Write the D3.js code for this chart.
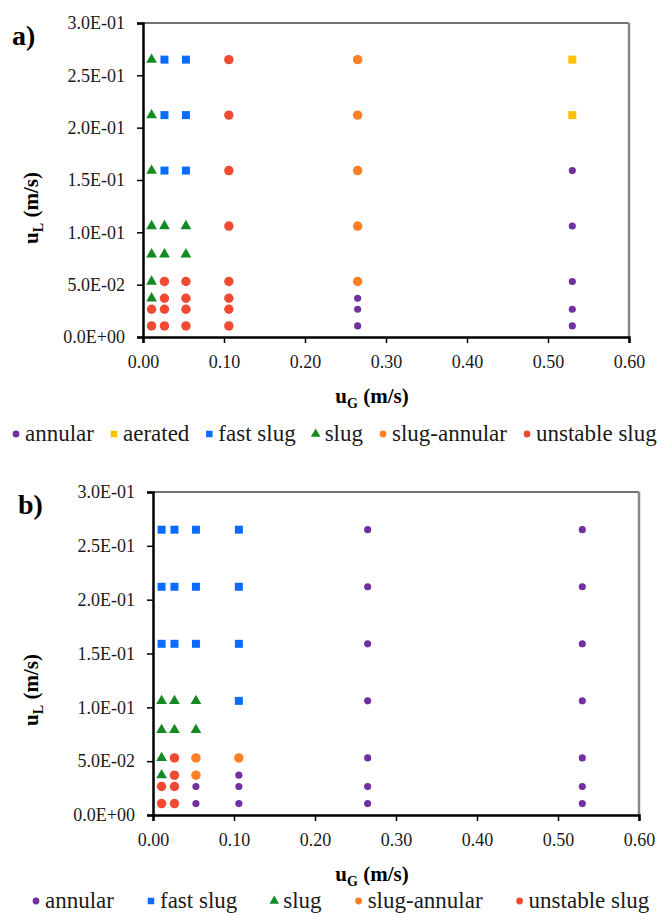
<!DOCTYPE html>
<html lang="en">
  <head>
    <meta charset="UTF-8" />
    <title>Flow regime maps</title>
    <style>
      body {
        margin: 0;
        background: #fff;
      }
    </style>
  </head>
  <body>
    <svg width="667" height="915" id="chart"></svg>

    <script src="https://d3js.org/d3.v7.min.js"></script>
    <script>
      // axis ticks
      var xTicks = [0, 0.1, 0.2, 0.3, 0.4, 0.5, 0.6];
      var yTicks = [0, 0.05, 0.1, 0.15, 0.2, 0.25, 0.3];

      // regimes, in legend order
      var regimesA = ["annular", "aerated", "fast slug", "slug", "slug-annular", "unstable slug"];
      var regimesB = ["annular", "fast slug", "slug", "slug-annular", "unstable slug"];

      // panel a) points [uG, uL]
      var annularA = [[0.265, 0.037], [0.265, 0.0265], [0.265, 0.0106],
        [0.53, 0.159], [0.53, 0.106], [0.53, 0.053], [0.53, 0.0265], [0.53, 0.0106]];
      var aeratedA = [[0.53, 0.265], [0.53, 0.212]];
      var fastSlugA = [[0.0265, 0.265], [0.0265, 0.212], [0.0265, 0.159],
        [0.053, 0.265], [0.053, 0.212], [0.053, 0.159]];
      var slugA = [[0.0106, 0.265], [0.0106, 0.212], [0.0106, 0.159], [0.0106, 0.106],
        [0.0106, 0.079], [0.0106, 0.053], [0.0106, 0.037],
        [0.0265, 0.106], [0.0265, 0.079], [0.053, 0.106], [0.053, 0.079]];
      var slugAnnularA = [[0.265, 0.265], [0.265, 0.212], [0.265, 0.159], [0.265, 0.106], [0.265, 0.053]];
      var unstableA = [[0.0106, 0.0265], [0.0106, 0.0106],
        [0.0265, 0.053], [0.0265, 0.037], [0.0265, 0.0265], [0.0265, 0.0106],
        [0.053, 0.053], [0.053, 0.037], [0.053, 0.0265], [0.053, 0.0106],
        [0.106, 0.265], [0.106, 0.212], [0.106, 0.159], [0.106, 0.106],
        [0.106, 0.053], [0.106, 0.037], [0.106, 0.0265], [0.106, 0.0106]];

      // panel b) points [uG, uL]
      var annularB = [[0.053, 0.0265], [0.053, 0.0106],
        [0.106, 0.037], [0.106, 0.0265], [0.106, 0.0106],
        [0.265, 0.265], [0.265, 0.212], [0.265, 0.159], [0.265, 0.106], [0.265, 0.053], [0.265, 0.0265], [0.265, 0.0106],
        [0.53, 0.265], [0.53, 0.212], [0.53, 0.159], [0.53, 0.106], [0.53, 0.053], [0.53, 0.0265], [0.53, 0.0106]];
      var fastSlugB = [[0.0106, 0.265], [0.0106, 0.212], [0.0106, 0.159],
        [0.0265, 0.265], [0.0265, 0.212], [0.0265, 0.159],
        [0.053, 0.265], [0.053, 0.212], [0.053, 0.159],
        [0.106, 0.265], [0.106, 0.212], [0.106, 0.159], [0.106, 0.106]];
      var slugB = [[0.0106, 0.106], [0.0106, 0.079], [0.0106, 0.053], [0.0106, 0.037],
        [0.0265, 0.106], [0.0265, 0.079], [0.053, 0.106], [0.053, 0.079]];
      var slugAnnularB = [[0.053, 0.053], [0.053, 0.037], [0.106, 0.053]];
      var unstableB = [[0.0106, 0.0265], [0.0106, 0.0106],
        [0.0265, 0.053], [0.0265, 0.037], [0.0265, 0.0265], [0.0265, 0.0106]];

      var style = {
        "annular": { color: "#7030a0", shape: d3.symbolCircle, size: 40 },
        "aerated": { color: "#ffc000", shape: d3.symbolSquare, size: 64 },
        "fast slug": { color: "#0a6cff", shape: d3.symbolSquare, size: 64 },
        "slug": { color: "#148a22", shape: d3.symbolTriangle, size: 50 },
        "slug-annular": { color: "#ff7f27", shape: d3.symbolCircle, size: 70 },
        "unstable slug": { color: "#f04a32", shape: d3.symbolCircle, size: 70 }
      };

      var serif = "'Liberation Serif', 'Times New Roman', Tinos, 'DejaVu Serif', serif";
      var svg = d3.select("#chart");

      // "3.0E-01" style labels
      function sci(v) {
        if (v === 0) return "0.0E+00";
        var e = Math.floor(Math.log10(v) + 1e-9);
        var m = v / Math.pow(10, e);
        var es = (e < 0 ? "-" : "+") + String(Math.abs(e)).padStart(2, "0");
        return m.toFixed(1) + "E" + es;
      }

      function drawPanel(p) {
        var x = d3.scaleLinear().domain([0, 0.6]).range([p.left, p.right]);
        var y = d3.scaleLinear().domain([0, 0.3]).range([p.bottom, p.top]);

        // frame: top and right
        svg.append("line")
          .attr("x1", p.left).attr("x2", p.right)
          .attr("y1", p.top).attr("y2", p.top)
          .attr("stroke", "#444").attr("stroke-width", 1.5);
        svg.append("line")
          .attr("x1", p.right).attr("x2", p.right)
          .attr("y1", p.top).attr("y2", p.bottom)
          .attr("stroke", "#888").attr("stroke-width", 2.5);

        var gx = svg.append("g")
          .attr("transform", "translate(0," + p.bottom + ")")
          .call(d3.axisBottom(x).tickValues(xTicks).tickFormat(d3.format(".2f"))
            .tickSize(6).tickPadding(12));
        var gy = svg.append("g")
          .attr("transform", "translate(" + p.left + ",0)")
          .call(d3.axisLeft(y).tickValues(yTicks).tickFormat(sci)
            .tickSize(6).tickPadding(12));
        [gx, gy].forEach(function (g) {
          g.attr("font-family", null).attr("font-size", null);
          g.select(".domain").attr("stroke", "#000").attr("stroke-width", 2.5);
          g.selectAll(".tick line").attr("stroke", "#000").attr("stroke-width", 1.5);
          g.selectAll(".tick text")
            .style("font-family", serif)
            .style("font-size", "18px").attr("fill", "#1a1a1a");
        });

        p.series.forEach(function (s) {
          var st = style[s.name];
          svg.append("g").selectAll("path")
            .data(s.points)
            .join("path")
            .attr("transform", function (d) {
              return "translate(" + x(d[0]) + "," + y(d[1]) + ")";
            })
            .attr("d", d3.symbol().type(st.shape).size(st.size))
            .attr("fill", st.color);
        });

        // panel letter
        svg.append("text")
          .attr("x", p.letterX).attr("y", p.top + 22)
          .style("font-family", serif)
          .style("font-size", "28px").style("font-weight", "bold")
          .text(p.letter);

        // x title
        var xt = svg.append("text")
          .attr("x", p.xTitleX).attr("y", p.bottom + 66)
          .attr("text-anchor", "middle")
          .style("font-family", serif)
          .style("font-size", "21px").style("font-weight", "bold");
        xt.append("tspan").text("u");
        xt.append("tspan").attr("dy", 5).style("font-size", "14px").text("G");
        xt.append("tspan").attr("dy", -5).text("\u00a0(m/s)");

        // y title
        var yt = svg.append("text")
          .attr("transform", "translate(" + p.yTitleX + "," + p.yTitleY + ") rotate(-90)")
          .attr("text-anchor", "middle")
          .style("font-family", serif)
          .style("font-size", "21px").style("font-weight", "bold");
        yt.append("tspan").text("u");
        yt.append("tspan").attr("dy", 5).style("font-size", "14px").text("L");
        yt.append("tspan").attr("dy", -5).text("\u00a0(m/s)");

        // legend
        var lg = svg.append("g");
        var cx = p.legendX;
        p.legend.forEach(function (name) {
          var st = style[name];
          var sz = st.shape === d3.symbolCircle ? 36 : (st.shape === d3.symbolTriangle ? 40 : 42);
          lg.append("path")
            .attr("transform", "translate(" + cx + "," + (p.legendY - 7) + ")")
            .attr("d", d3.symbol().type(st.shape).size(sz))
            .attr("fill", st.color);
          var t = lg.append("text")
            .attr("x", cx + 9).attr("y", p.legendY)
            .style("font-family", serif)
            .style("font-size", "23px").attr("fill", "#1a1a1a")
            .text(name);
          cx += 9 + t.node().getComputedTextLength() + p.legendGap;
        });
      }

      drawPanel({
        left: 143, right: 629, top: 23, bottom: 337,
        letter: "a)", letterX: 12,
        xTitleX: 372, yTitleX: 38, yTitleY: 208,
        legendX: 16, legendY: 441, legendGap: 20,
        legend: regimesA,
        series: [
          { name: "annular", points: annularA },
          { name: "aerated", points: aeratedA },
          { name: "fast slug", points: fastSlugA },
          { name: "slug", points: slugA },
          { name: "slug-annular", points: slugAnnularA },
          { name: "unstable slug", points: unstableA }
        ]
      });

      drawPanel({
        left: 153, right: 639, top: 492, bottom: 815,
        letter: "b)", letterX: 18,
        xTitleX: 372, yTitleX: 38, yTitleY: 690,
        legendX: 36, legendY: 908, legendGap: 37,
        legend: regimesB,
        series: [
          { name: "annular", points: annularB },
          { name: "fast slug", points: fastSlugB },
          { name: "slug", points: slugB },
          { name: "slug-annular", points: slugAnnularB },
          { name: "unstable slug", points: unstableB }
        ]
      });
    </script>
  </body>
</html>
